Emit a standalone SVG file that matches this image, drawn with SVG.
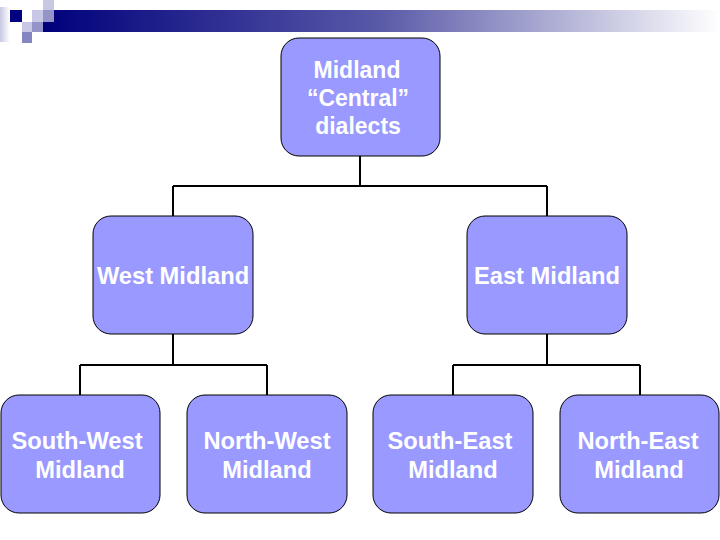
<svg xmlns="http://www.w3.org/2000/svg" width="720" height="540" viewBox="0 0 720 540">
<defs>
<linearGradient id="bar" x1="0" y1="0" x2="1" y2="0">
<stop offset="0" stop-color="#00007c"/>
<stop offset="0.5" stop-color="#5a5aa8"/>
<stop offset="1" stop-color="#ffffff"/>
</linearGradient>
<linearGradient id="lft" x1="0" y1="0" x2="1" y2="0">
<stop offset="0" stop-color="#c8c8e4"/>
<stop offset="1" stop-color="#ffffff"/>
</linearGradient>
<style>
.box{fill:#9999ff;stroke:#000;stroke-width:1}
.t{font-family:"Liberation Sans",Arial,sans-serif;font-weight:bold;font-size:23.7px;fill:#fff;text-anchor:middle}
.s{font-size:23px}
.c{fill:none;stroke:#000;stroke-width:2}
</style>
</defs>
<rect width="720" height="540" fill="#fff"/>
<g id="header">
<rect x="43" y="10" width="677" height="22" fill="url(#bar)"/>
<rect x="0" y="7" width="10" height="35" fill="url(#lft)"/>
<rect x="10" y="10" width="12" height="12" fill="#000080"/>
<rect x="32" y="10" width="11" height="12" fill="#c8c8e6"/>
<rect x="43" y="0" width="11" height="10" fill="#c8c8e2"/>
<rect x="43" y="10" width="11" height="12" fill="#9494c8"/>
<rect x="22" y="22" width="10" height="10" fill="#c8c8e6"/>
<rect x="32" y="22" width="11" height="10" fill="#9494c8"/>
<rect x="22" y="32" width="10" height="11" fill="#8585c2"/>
</g>
<g id="connectors">
<path class="c" d="M360 156V186M173 186H547M173 186V216M547 186V216"/>
<path class="c" d="M173 334V365M80 365H267M80 365V395M267 365V395"/>
<path class="c" d="M547 334V365M453 365H640M453 365V395M640 365V395"/>
</g>
<g id="midland">
<rect class="box" x="281" y="38" width="159" height="118" rx="18"/>
<text class="t s" x="357" y="78">Midland</text>
<text class="t s" x="358" y="106">“Central”</text>
<text class="t s" x="358" y="134">dialects</text>
</g>
<g id="west-midland">
<rect class="box" x="93" y="216" width="160" height="118" rx="18"/>
<text class="t" x="173" y="284">West Midland</text>
</g>
<g id="east-midland">
<rect class="box" x="467" y="216" width="160" height="118" rx="18"/>
<text class="t" x="547" y="284">East Midland</text>
</g>
<g id="south-west-midland">
<rect class="box" x="1" y="395" width="159" height="118" rx="18"/>
<text class="t" x="77" y="449">South-West</text>
<text class="t" x="80" y="478">Midland</text>
</g>
<g id="north-west-midland">
<rect class="box" x="187" y="395" width="160" height="118" rx="18"/>
<text class="t" x="267" y="449">North-West</text>
<text class="t" x="267" y="478">Midland</text>
</g>
<g id="south-east-midland">
<rect class="box" x="373" y="395" width="160" height="118" rx="18"/>
<text class="t" x="450" y="449">South-East</text>
<text class="t" x="453" y="478">Midland</text>
</g>
<g id="north-east-midland">
<rect class="box" x="560" y="395" width="159" height="118" rx="18"/>
<text class="t" x="638" y="449">North-East</text>
<text class="t" x="639" y="478">Midland</text>
</g>
</svg>
